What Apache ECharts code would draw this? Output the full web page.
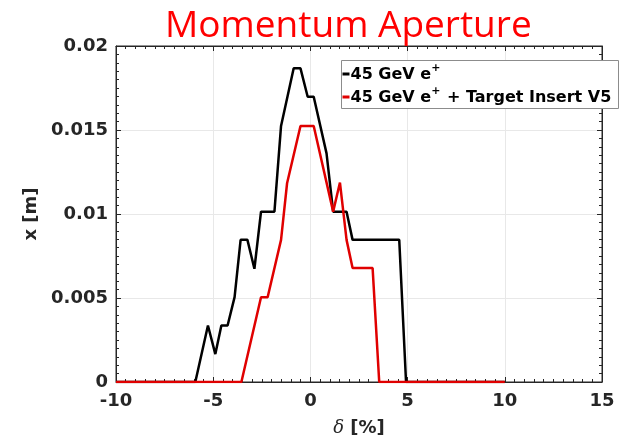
<!DOCTYPE html>
<html><head><meta charset="utf-8">
<script src="https://cdn.jsdelivr.net/npm/echarts@6/dist/echarts.min.js"></script>
<style>html,body{margin:0;padding:0;background:#fff}#c{width:628px;height:436px}</style>
</head><body><div id="c"></div>
<script>
const titleText = 'Momentum Aperture';
const seriesNames = ['45 GeV e+', '45 GeV e+ + Target Insert V5'];
const xTicks = [-10, -5, 0, 5, 10, 15];
const yTicks = [0, 0.005, 0.01, 0.015, 0.02];
const blackX = [-10, -5.92, -5.27, -4.89, -4.58, -4.26, -3.9, -3.59, -3.24, -2.88, -2.54, -1.85, -1.51, -0.86, -0.51, -0.14, 0.17, 0.83, 1.17, 1.86, 2.17, 4.57, 4.92, 10];
const blackY = [0, 0, 0.00336, 0.00166, 0.00336, 0.00336, 0.00505, 0.00846, 0.00846, 0.00674, 0.01014, 0.01014, 0.01524, 0.01867, 0.01867, 0.01698, 0.01698, 0.01361, 0.01014, 0.01014, 0.00846, 0.00846, 0, 0];
const redX = [-10, -3.55, -2.54, -2.2, -1.51, -1.2, -0.51, 0.17, 1.17, 1.52, 1.86, 2.17, 3.2, 3.54, 10];
const redY = [0, 0, 0.00505, 0.00505, 0.00846, 0.01183, 0.01524, 0.01524, 0.01014, 0.01187, 0.00846, 0.00678, 0.00678, 0, 0];

const zip = (a, b) => a.map((v, i) => [v, b[i]]);
const chart = echarts.init(document.getElementById('c'));
const font = 'DejaVu Sans';
const ink = '#262626';
const axisCommon = {
  axisLine: {show: true, onZero: false, lineStyle: {color: ink, width: 1}},
  axisTick: {show: true, inside: true, length: 5, lineStyle: {color: ink}},
  minorTick: {show: true, splitNumber: 10, length: 3, lineStyle: {color: ink}},
};
const legText = {fontFamily: font, fontWeight: 'bold', fontSize: 16, color: '#000', lineHeight: 22};
chart.setOption({
  animation: false,
  title: {text: titleText, left: 160, top: 3,
    textStyle: {color: '#ff0000', fontSize: 37, fontWeight: 'normal', fontFamily: 'Open Sans'}},
  grid: {left: 116, right: 26, top: 46, bottom: 54, show: true, borderColor: ink, borderWidth: 1,
    containLabel: false, outerBoundsMode: 'none'},
  graphic: [{type: 'rect', z: 3, shape: {x: 341.5, y: 60.5, width: 277, height: 48},
    style: {fill: '#fff', stroke: '#8c8c8c', lineWidth: 1}}],
  legend: {
    orient: 'vertical', left: 337.5, top: 63, itemGap: 3, z: 10,
    padding: 0, icon: 'rect', itemWidth: 0, itemHeight: 0,
    formatter: n => n === seriesNames[0]
      ? '{k|}{b|45 GeV e}{s|+}'
      : '{r|}{b|45 GeV e}{s|+}{b| + Target Insert V5}',
    textStyle: {rich: {
      k: {width: 7, height: 3, backgroundColor: '#000', verticalAlign: 'middle'},
      r: {width: 7, height: 3, backgroundColor: '#e00000', verticalAlign: 'middle'},
      b: Object.assign({padding: [2, 0, 0, 1]}, legText),
      s: {fontFamily: font, fontWeight: 'bold', fontSize: 11, color: '#000', verticalAlign: 'top', lineHeight: 22, padding: [0, 0, 8, 0]}
    }},
    data: seriesNames
  },
  xAxis: [{
    type: 'value', min: xTicks[0], max: xTicks[xTicks.length - 1], interval: 5,
    ...axisCommon,
    splitLine: {show: true, lineStyle: {color: '#e8e8e8'}},
    axisLabel: {color: ink, fontFamily: font, fontWeight: 'bold', fontSize: 18, margin: 10},
    name: '{i|δ} [%]', nameLocation: 'middle', nameGap: 37,
    nameTextStyle: {color: ink, fontFamily: font, fontWeight: 'bold', fontSize: 18,
      rich: {i: {fontFamily: 'DejaVu Serif', fontStyle: 'italic', fontWeight: 'normal', fontSize: 18, color: ink}}}
  }, {
    type: 'value', position: 'top', min: xTicks[0], max: xTicks[xTicks.length - 1], interval: 5,
    ...axisCommon, axisLabel: {show: false}, splitLine: {show: false}
  }],
  yAxis: [{
    type: 'value', min: yTicks[0], max: yTicks[yTicks.length - 1], interval: 0.005,
    ...axisCommon,
    splitLine: {show: true, lineStyle: {color: '#e8e8e8'}},
    axisLabel: {color: ink, fontFamily: font, fontWeight: 'bold', fontSize: 18, margin: 8},
    name: 'x [m]', nameLocation: 'middle', nameGap: 66,
    nameTextStyle: {color: ink, fontFamily: font, fontWeight: 'bold', fontSize: 18}
  }, {
    type: 'value', position: 'right', min: yTicks[0], max: yTicks[yTicks.length - 1], interval: 0.005,
    ...axisCommon, axisLabel: {show: false}, splitLine: {show: false}
  }],
  series: [
    {name: seriesNames[0], type: 'line', data: zip(blackX, blackY), symbol: 'none',
      lineStyle: {color: '#000', width: 2.5}, itemStyle: {color: '#000'}, z: 2},
    {name: seriesNames[1], type: 'line', data: zip(redX, redY), symbol: 'none',
      lineStyle: {color: '#e00000', width: 2.5}, itemStyle: {color: '#e00000'}, z: 2}
  ]
});
</script></body></html>
